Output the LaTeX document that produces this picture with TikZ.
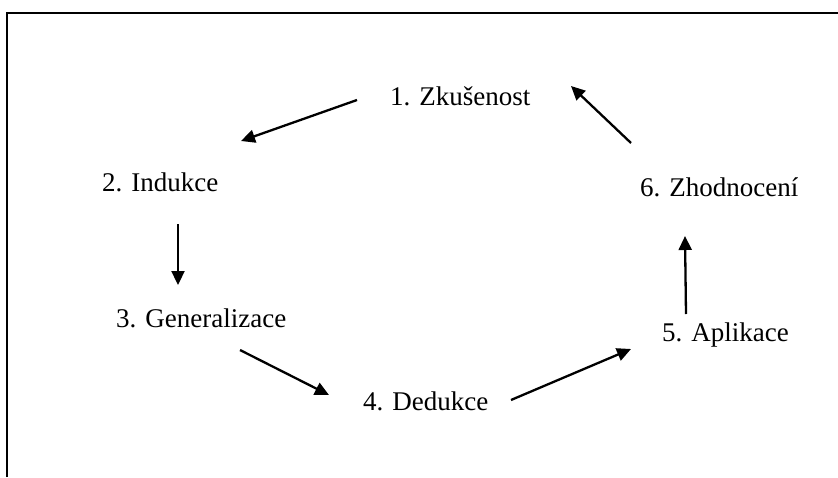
\documentclass[tikz,border=0pt]{standalone}
\usepackage{fontspec}
\setmainfont{Liberation Serif}
\usetikzlibrary{arrows.meta}
\begin{document}
\begin{tikzpicture}[x=1pt,y=-1pt,
  label/.style={anchor=base west,inner sep=0pt,font=\fontsize{27}{32}\selectfont},
  cyclearrow/.style={line width=2.3pt,-{Triangle[length=14pt,width=13pt]}},
  frame/.style={line width=1.4pt}]
  \useasboundingbox (0,0) rectangle (838,477);
  % open frame: top and left edges
  \draw[frame] (7,477) -- (7,13) -- (838,13);
  % stage labels
  \node[label] (zk) at (390,105) {1. Zkušenost};
  \node[label] (in) at (102,191) {2. Indukce};
  \node[label] (ge) at (116,327) {3. Generalizace};
  \node[label] (de) at (363,410) {4. Dedukce};
  \node[label] (ap) at (662,341) {5. Aplikace};
  \node[label] (zh) at (640,196) {6. Zhodnocení};
  % arrow end points
  \coordinate (a1s) at (357,100); \coordinate (a1e) at (241,141);
  \coordinate (a2s) at (178,224); \coordinate (a2e) at (178,285);
  \coordinate (a3s) at (240,350); \coordinate (a3e) at (329,395);
  \coordinate (a4s) at (511,400); \coordinate (a4e) at (631,349);
  \coordinate (a5s) at (686,314); \coordinate (a5e) at (685,236);
  \coordinate (a6s) at (631,143); \coordinate (a6e) at (571,86);
  % cycle arrows
  \draw[cyclearrow] (a1s) -- (a1e);
  \draw[cyclearrow] (a2s) -- (a2e);
  \draw[cyclearrow] (a3s) -- (a3e);
  \draw[cyclearrow] (a4s) -- (a4e);
  \draw[cyclearrow] (a5s) -- (a5e);
  \draw[cyclearrow] (a6s) -- (a6e);
\end{tikzpicture}
\end{document}
